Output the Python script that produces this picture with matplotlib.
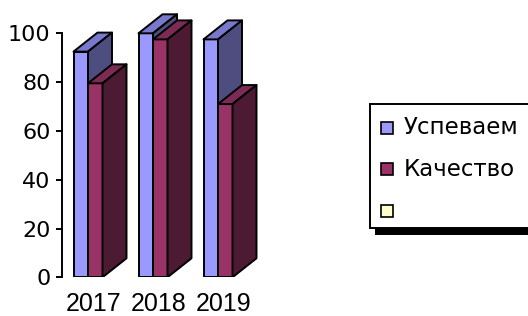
import matplotlib
matplotlib.use("Agg")
import matplotlib.pyplot as plt
from matplotlib.patches import Polygon, Rectangle

years = ["2017", "2018", "2019"]
uspevaem = [92.5, 100, 97.5]
kachestvo = [79.5, 97.5, 71]
series_names = ["Успеваем", "Качество", ""]

front_colors = ["#9999FF", "#993366", "#FFFFCC"]
top_colors = ["#7878CC", "#7D2A55"]
side_colors = ["#4D4D80", "#4D1A33"]

W, H = 528, 316
fig = plt.figure(figsize=(W / 100, H / 100), dpi=100)

# axes placed in pixels: y=0 at 277.3px, 2.44px per unit; 65px per group
px_unit_x = 65.0
px_unit_y = 2.44
x0_px, y0_px = 61.7, 277.3
xmin = (x0_px - 88.0) / px_unit_x
ax_w_px = 240.0
ax_h_px = 110 * px_unit_y
ax = fig.add_axes([x0_px / W, (H - y0_px) / H, ax_w_px / W, ax_h_px / H])
ax.set_xlim(xmin, xmin + ax_w_px / px_unit_x)
ax.set_ylim(0, 110)
ax.patch.set_alpha(0)

bw = 14.5 / px_unit_x
dx = 24.0 / px_unit_x
dy = 19.0 / px_unit_y
lw = 1.4

xs = list(range(len(years)))
for k, vals in enumerate([uspevaem, kachestvo]):
    lefts = [x - bw if k == 0 else x for x in xs]
    ax.bar(lefts, vals, width=bw, align="edge", color=front_colors[k],
           edgecolor="black", linewidth=lw, zorder=2 + k)
    for l, v in zip(lefts, vals):
        top = [(l, v), (l + bw, v), (l + bw + dx, v + dy), (l + dx, v + dy)]
        side = [(l + bw, 0), (l + bw + dx, dy), (l + bw + dx, v + dy), (l + bw, v)]
        ax.add_patch(Polygon(top, closed=True, facecolor=top_colors[k],
                             edgecolor="black", linewidth=lw, zorder=2 + k,
                             joinstyle="round"))
        ax.add_patch(Polygon(side, closed=True, facecolor=side_colors[k],
                             edgecolor="black", linewidth=lw, zorder=2 + k,
                             joinstyle="round"))

for s in ["top", "right", "bottom"]:
    ax.spines[s].set_visible(False)
ax.spines["left"].set_bounds(0, 100)
ax.spines["left"].set_linewidth(1.4)
ax.set_yticks([0, 20, 40, 60, 80, 100])
ax.tick_params(axis="y", length=4, width=1.4, pad=4, labelsize=16)
for t in ax.get_yticklabels():
    t.set_fontfamily("DejaVu Sans")
ax.set_xticks([x + 0.08 for x in xs])
ax.set_xticklabels(years, fontsize=18, fontfamily="Liberation Sans")
ax.tick_params(axis="x", length=0, pad=10.5)

# legend box (extends past right edge, with drop shadow)
def fx(px):
    return px / W

def fy(py):
    return 1 - py / H

fig.patches.append(Rectangle((fx(375), fy(235)), fx(200), 7 / H,
                             transform=fig.transFigure, facecolor="black",
                             edgecolor="none", zorder=1))
fig.patches.append(Rectangle((fx(370), fy(228)), fx(200), 124 / H,
                             transform=fig.transFigure, facecolor="white",
                             edgecolor="black", linewidth=1.4, zorder=2))
rows_y = [127.5, 169, 211]
for name, c, ry in zip(series_names, front_colors, rows_y):
    fig.patches.append(Rectangle((fx(381), fy(ry + 6)), 12 / W, 12 / H,
                                 transform=fig.transFigure, facecolor=c,
                                 edgecolor="black", linewidth=1.2, zorder=3))
    fig.text(fx(404), fy(ry), name, fontsize=16.5, fontfamily="DejaVu Sans",
             va="center", ha="left", zorder=4)

fig.savefig("out.png", dpi=100)
